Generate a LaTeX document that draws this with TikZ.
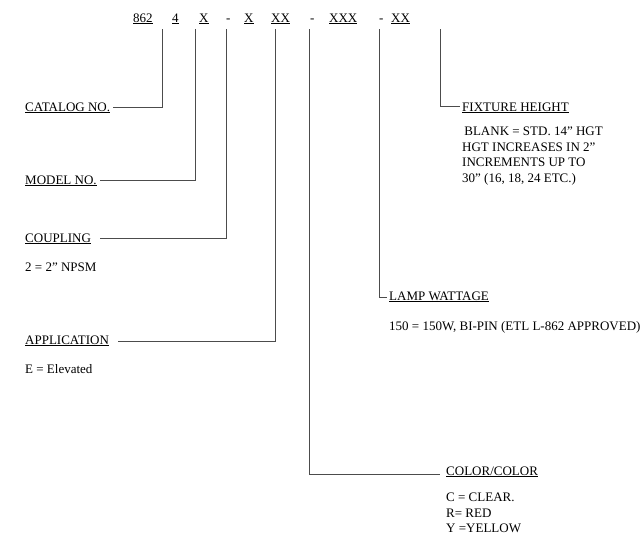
\documentclass[tikz,border=0pt]{standalone}
\usepackage{fontspec}
\setmainfont{Liberation Serif}
\begin{document}
\begin{tikzpicture}[x=1pt,y=-1pt,
  t/.style={anchor=base west,inner sep=0pt,font=\fontsize{13}{15.5}\selectfont},
  ln/.style={draw=black!70,line width=0.8pt}]
\useasboundingbox (0,0) rectangle (642,544);
% code row
\node[t] (c1) at (133,22) {\underline{862}};
\node[t] (c2) at (172,22) {\underline{4}};
\node[t] (c3) at (199,22) {\underline{X}};
\node[t] (d1) at (226,22) {-};
\node[t] (c4) at (244,22) {\underline{X}};
\node[t] (c5) at (271,22) {\underline{XX}};
\node[t] (d2) at (310,22) {-};
\node[t] (c6) at (329,22) {\underline{XXX}};
\node[t] (d3) at (379,22) {-};
\node[t] (c7) at (391,22) {\underline{XX}};
% labels
\node[t] (cat) at (25,111) {\underline{CATALOG NO.}};
\node[t] (mod) at (25,184) {\underline{MODEL NO.}};
\node[t] (cou) at (25,242) {\underline{COUPLING}};
\node[t] (couD) at (25,271) {2 = 2” NPSM};
\node[t] (app) at (25,344) {\underline{APPLICATION}};
\node[t] (appD) at (25,373) {E = Elevated};
\node[t] (col) at (446,475) {\underline{COLOR/COLOR}};
\node[t,align=left,anchor=north west] (colD) at (446,493) {C = CLEAR.\\R= RED\\Y =YELLOW};
\node[t] (lamp) at (389,300) {\underline{LAMP WATTAGE}};
\node[t] (lampD) at (389,330) {150 = 150W, BI-PIN (ETL L-862 APPROVED)};
\node[t] (fix) at (462,111) {\underline{FIXTURE HEIGHT}};
\node[t,align=left,anchor=north west] (fixD) at (462,127) {\,BLANK = STD. 14” HGT\\HGT INCREASES IN 2”\\INCREMENTS UP TO\\30” (16, 18, 24 ETC.)};
% connectors
\coordinate (v1) at (162,29); \coordinate (v2) at (195,29); \coordinate (v3) at (226,29);
\coordinate (v4) at (275,29); \coordinate (v5) at (309,29); \coordinate (v6) at (379,29);
\coordinate (v7) at (440,29);
\draw[ln] (v1) |- (113,107);
\draw[ln] (v2) |- (100,180);
\draw[ln] (v3) |- (100,238);
\draw[ln] (v4) |- (118,341);
\draw[ln] (v5) |- (440,474);
\draw[ln] (v6) |- (387,297);
\draw[ln] (v7) |- (460,106);
\end{tikzpicture}
\end{document}
